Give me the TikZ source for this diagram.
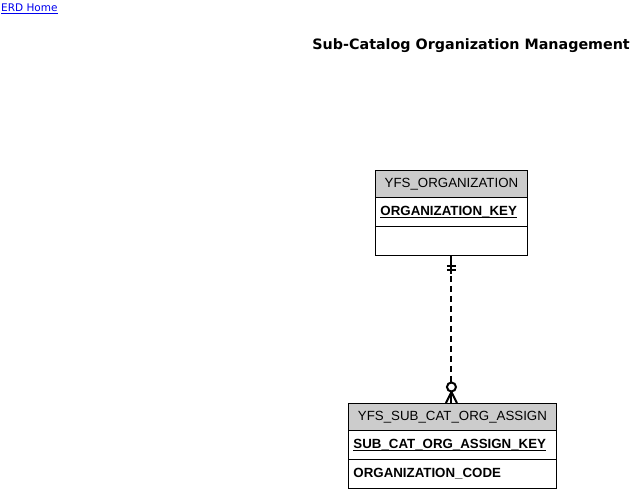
\documentclass[tikz,border=0pt]{standalone}
\usepackage{fontspec}
\setmainfont{Liberation Sans}
\newfontfamily\titlefont{DejaVu Sans}
\usetikzlibrary{calc}
\definecolor{hdrgray}{RGB}{204,204,204}
\definecolor{linkblue}{RGB}{0,0,238}
\newcommand{\keyline}[1]{\setbox0\hbox{#1}\leavevmode\rlap{\raisebox{-3pt}{\rule{\wd0}{1.1pt}}}\box0}
\tikzset{
  ent/.style={draw=black, line width=0.9pt, inner ysep=0pt, anchor=north west, font=\fontsize{13.3}{15}\selectfont},
  enthdr/.style={ent, fill=hdrgray, align=center},
  entrow/.style={ent, fill=white, align=left, inner xsep=5pt},
  rel/.style={line width=2pt, dash pattern=on 6pt off 4pt},
  relmark/.style={line width=2pt}
}
\begin{document}
\begin{tikzpicture}[x=1pt,y=-1pt]
\useasboundingbox (0,0) rectangle (643,489);
% link and title
\node[anchor=west, inner sep=0pt, text=linkblue, font=\titlefont\fontsize{10.5}{13}\selectfont] (home) at (1,9) {\underline{ERD Home}};
\node[anchor=east, inner sep=0pt, font=\titlefont\bfseries\fontsize{14.3}{17}\selectfont] (title) at (630,45.5) {Sub-Catalog Organization Management};
% entity 1
\node[enthdr, minimum width=152, minimum height=27] (o1h) at (375,170) {YFS\_ORGANIZATION};
\node[entrow, text width=142, minimum height=29] (o1k) at (375,197) {\textbf{\keyline{ORGANIZATION\_KEY}}};
\node[entrow, text width=142, minimum height=29] (o1e) at (375,226) {};
% entity 2
\node[enthdr, minimum width=208, minimum height=27] (o2h) at (348,403) {YFS\_SUB\_CAT\_ORG\_ASSIGN};
\node[entrow, text width=198, minimum height=29] (o2k) at (348,430) {\textbf{\keyline{SUB\_CAT\_ORG\_ASSIGN\_KEY}}};
\node[entrow, text width=198, minimum height=29] (o2a) at (348,459) {\textbf{ORGANIZATION\_CODE}};
% relationship
\coordinate (top) at (o1e.south);
\coordinate (bot) at (o1e.south |- o2h.north);
\draw[rel] (top) -- ($(bot)+(0,-14)$);
\draw[relmark] (top) -- ($(top)+(0,18)$);
\draw[relmark] ($(top)+(-4.5,10)$) -- ($(top)+(4.5,10)$);
\draw[relmark] ($(top)+(-4.5,14.5)$) -- ($(top)+(4.5,14.5)$);
\draw[relmark, fill=white] ($(bot)+(0,-16)$) circle (4.5);
\draw[relmark] ($(bot)+(0,-11)$) -- (bot);
\draw[relmark] ($(bot)+(0,-11)$) -- ($(bot)+(-5.5,0)$);
\draw[relmark] ($(bot)+(0,-11)$) -- ($(bot)+(5.5,0)$);
\end{tikzpicture}
\end{document}
